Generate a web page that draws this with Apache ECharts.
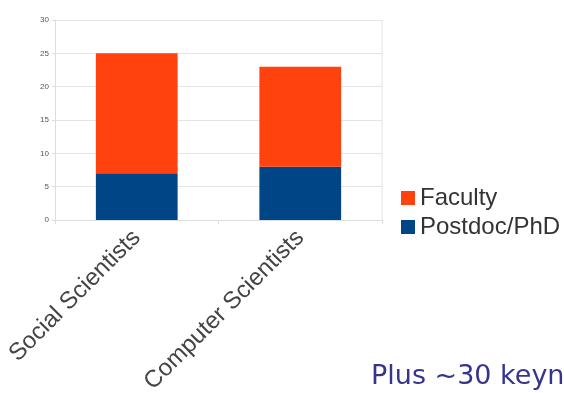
<!DOCTYPE html>
<html>
<head>
<meta charset="utf-8">
<script src="https://cdn.jsdelivr.net/npm/echarts@6/dist/echarts.min.js"></script>
<style>
  html, body { margin: 0; padding: 0; background: #ffffff; }
  #chart { width: 564px; height: 393px; }
</style>
</head>
<body>
<div id="chart"></div>
<script>
// Participants by field, stacked by role
const categories = ['Social Scientists', 'Computer Scientists'];
const postdocPhd = [7, 8];
const faculty = [18, 15];
const yTicks = { min: 0, max: 30, interval: 5 };

const chart = echarts.init(document.getElementById('chart'), null, { renderer: 'canvas' });

chart.setOption({
  animation: false,
  backgroundColor: '#ffffff',
  grid: { left: 55, top: 20, width: 327, height: 200, containLabel: false, outerBoundsMode: 'none' },
  legend: {
    orient: 'vertical',
    left: 396,
    top: 181,
    itemWidth: 14,
    itemHeight: 14,
    itemGap: 5,
    icon: 'rect',
    data: ['Faculty', 'Postdoc/PhD'],
    textStyle: { fontFamily: 'Liberation Sans', fontSize: 24, lineHeight: 24, color: '#333333', padding: [0, 0, 0, 0] }
  },
  xAxis: {
    type: 'category',
    data: categories,
    axisLine: { show: true, lineStyle: { color: '#dddddd' } },
    axisTick: { show: true, length: 4, alignWithLabel: false, lineStyle: { color: '#dddddd' } },
    splitLine: { show: false },
    axisLabel: {
      rotate: 45,
      interval: 0,
      margin: 14,
      fontFamily: 'Liberation Sans',
      fontSize: 24,
      color: '#444444'
    }
  },
  yAxis: {
    type: 'value',
    min: yTicks.min,
    max: yTicks.max,
    interval: yTicks.interval,
    axisLine: { show: true, lineStyle: { color: '#dddddd' } },
    axisTick: { show: true, length: 3, lineStyle: { color: '#dddddd' } },
    splitLine: { show: true, lineStyle: { color: '#e4e4e4' } },
    axisLabel: { fontFamily: 'Liberation Sans', fontSize: 8, color: '#555555', margin: 6 }
  },
  series: [
    {
      name: 'Postdoc/PhD',
      type: 'bar',
      stack: 'total',
      data: postdocPhd,
      barWidth: '50%',
      itemStyle: { color: '#004586' }
    },
    {
      name: 'Faculty',
      type: 'bar',
      stack: 'total',
      data: faculty,
      barWidth: '50%',
      itemStyle: { color: '#ff420e' }
    }
  ],
  graphic: [
    {
      type: 'line',
      shape: { x1: 382, y1: 20, x2: 382, y2: 220 },
      style: { stroke: '#e4e4e4', lineWidth: 1 }
    },
    {
      type: 'text',
      left: 371,
      top: 363,
      style: {
        text: 'Plus ~30 keyn',
        fontFamily: 'DejaVu Sans',
        fontSize: 27,
        fill: '#36358c'
      }
    }
  ]
});
</script>
</body>
</html>
